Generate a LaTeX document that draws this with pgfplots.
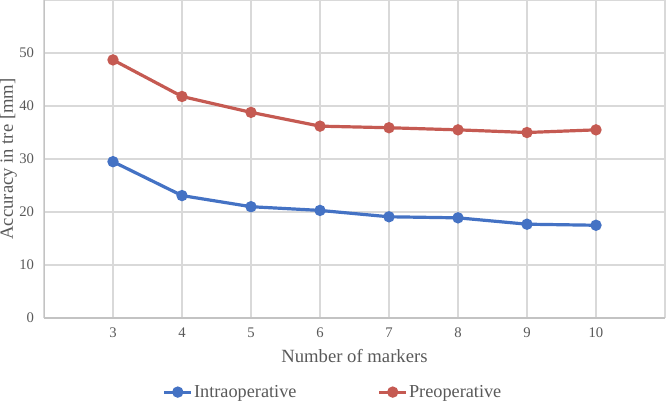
\documentclass[border=0pt]{standalone}
\usepackage{fontspec}
\setmainfont{Liberation Serif}
\usepackage{pgfplots}
\pgfplotsset{compat=1.18}
\definecolor{intra}{HTML}{4472C4}
\definecolor{preop}{HTML}{C55A52}
\definecolor{txt}{HTML}{595959}
\definecolor{gridc}{HTML}{D9D9D9}
\begin{document}
\begin{tikzpicture}
\path[use as bounding box] (-33pt,-62.25pt) rectangle (466.5pt,238.5pt);
\begin{axis}[
  at={(0,0)}, anchor=south west,
  scale only axis,
  width=465.75pt, height=238.5pt,
  xmin=2, xmax=11, ymin=0, ymax=60,
  xtick={3,...,10},
  ytick={0,10,...,50},
  extra y ticks={60}, extra y tick labels={},
  extra y tick style={grid=major},
  minor xtick={2,11},
  xmajorgrids, ymajorgrids, xminorgrids,
  grid style={gridc, line width=0.9pt},
  minor grid style={gridc, line width=0.9pt},
  axis line style={draw=none},
  major tick length=0pt, minor tick length=0pt,
  tick label style={font=\fontsize{11}{12}\selectfont, text=txt},
  /pgf/number format/assume math mode=true,
  xticklabel style={yshift=-4pt},
  yticklabel style={xshift=-4pt},
  xlabel={Number of markers},
  ylabel={Accuracy in tre [mm]},
  label style={font=\fontsize{14}{16}\selectfont, text=txt},
  xlabel style={yshift=-2pt},
  ylabel style={yshift=-5pt},
  legend columns=2,
  legend style={draw=none, fill=none, at={(0.465,-0.233)}, anchor=center,
    font=\fontsize{13.7}{15}\selectfont, text=txt,
    nodes={inner xsep=1pt},
    /tikz/every even column/.append style={column sep=60pt}},
  legend image code/.code={
    \draw[#1, mark repeat=2, mark phase=2] plot coordinates {(0pt,0pt) (10pt,0pt) (20pt,0pt)};},
]
\draw[draw=gridc!75!gray, line width=0.9pt] (axis cs:2,60) -- (axis cs:2,0) -- (axis cs:11,0);
\addplot[intra, line width=2.4pt, mark=*, mark size=3pt, mark options={solid}]
  coordinates {(3,29.5)(4,23.1)(5,21.0)(6,20.3)(7,19.1)(8,18.9)(9,17.7)(10,17.5)};
\addlegendentry{Intraoperative}
\addplot[preop, line width=2.4pt, mark=*, mark size=3pt, mark options={solid}]
  coordinates {(3,48.7)(4,41.8)(5,38.8)(6,36.2)(7,35.9)(8,35.5)(9,35.0)(10,35.5)};
\addlegendentry{Preoperative}
\end{axis}
\end{tikzpicture}
\end{document}
